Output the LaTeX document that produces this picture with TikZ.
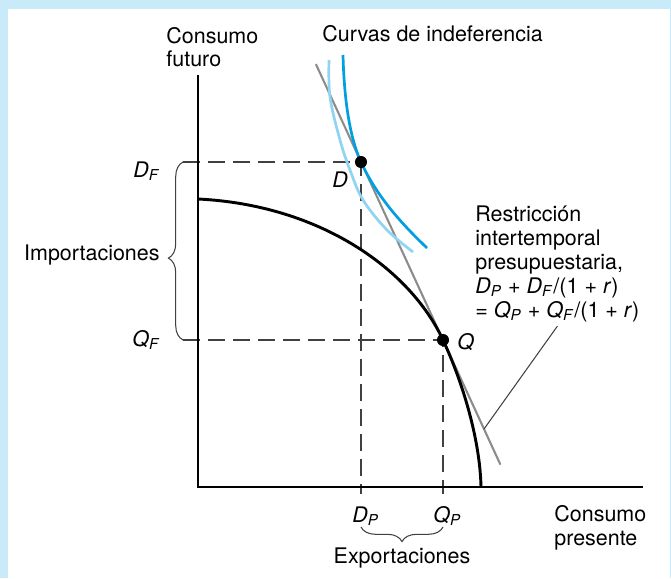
\documentclass[tikz,border=0pt]{standalone}
\usepackage{fontspec}
\setmainfont{TeX Gyre Heros}
\usetikzlibrary{decorations.pathreplacing,calc}

\definecolor{bandblue}{HTML}{C8EAF9}
\definecolor{curvedark}{HTML}{00A0E0}
\definecolor{curvelight}{HTML}{90D4F2}
\definecolor{budgetgray}{HTML}{8C8C8C}
\definecolor{guidegray}{HTML}{404040}

\newcommand{\lblsub}[2]{\textit{#1}\textsubscript{\textit{#2}}}

\begin{document}
\begin{tikzpicture}[x=0.48pt,y=-0.48pt,
  every node/.style={inner sep=0pt,font=\fontsize{10.3}{11.5}\selectfont},
  axis/.style={line width=1.4pt},
  frontier/.style={line width=1.4pt},
  budget/.style={budgetgray,line width=1pt},
  indifhi/.style={curvedark,line width=1.3pt},
  indiflo/.style={curvelight,line width=1.3pt},
  guide/.style={guidegray,line width=0.7pt,dash pattern=on 8pt off 4pt},
  bracket/.style={guidegray,line width=0.5pt,decorate,decoration={brace,amplitude=7pt}},
  leader/.style={guidegray,line width=0.5pt},
  dot/.style={circle,fill=black,minimum size=5.8pt},
  lbl/.style={anchor=base west}]

  %-------------------------
  % Marco
  %-------------------------
  \fill[bandblue] (0,0) rectangle (671,578);
  \fill[white] (8,9) rectangle (670,578);
  \useasboundingbox (0,0) rectangle (671,578);

  %-------------------------
  % Puntos de referencia
  %-------------------------
  \coordinate (O) at (198,487);
  \coordinate (ytop) at (198,75);
  \coordinate (xend) at (643,487);
  \coordinate (D) at (361,162);
  \coordinate (Q) at (443,340);
  \coordinate (DP) at (361,494);
  \coordinate (QP) at (443,494);
  \coordinate (DF) at (183,162);
  \coordinate (QF) at (183,340);
  \coordinate (F0) at (198,199);
  \coordinate (F1) at (481,487);
  \coordinate (lead) at ($(D)!1.5!(Q)$);

  %-------------------------
  % Lineas de trazos
  %-------------------------
  \draw[guide] (DF) -- (D) -- (DP);
  \draw[guide] (QF) -- (Q) -- (QP);

  %-------------------------
  % Restriccion presupuestaria
  %-------------------------
  \draw[budget] ($(D)!-0.55!(Q)$) -- ($(D)!1.7!(Q)$);

  %-------------------------
  % Curvas de indiferencia
  %-------------------------
  \draw[indiflo] plot[smooth,tension=0.6] coordinates
    {(329,60) (330,97) (340,140) (350,170) (363,200) (387,230) (413,252)};
  \draw[indifhi] (343,55) .. controls (344,95) and (348.7,135.3) .. (D)
    .. controls (377.4,197.6) and (402,224) .. (427,248);

  %-------------------------
  % Frontera de posibilidades
  %-------------------------
  \draw[frontier] (F0) .. controls (320,205) and (410,269) .. (Q)
    .. controls (463,383) and (480,440) .. (F1);

  % Ejes
  \draw[axis] (ytop) -- (O) -- (xend);

  % Puntos D y Q
  \node[dot] (Ddot) at (D) {};
  \node[dot] (Qdot) at (Q) {};

  %-------------------------
  % Etiquetas
  %-------------------------
  \node[lbl] (Dlab) at (332,187) {\textit{D}};
  \node[lbl] (Qlab) at (457,349) {\textit{Q}};
  \node[lbl] (DFlab) at (133,177) {\lblsub{D}{F}};
  \node[lbl] (QFlab) at (132,346) {\lblsub{Q}{F}};
  \node[lbl] (DPlab) at (352,522) {\lblsub{D}{P}};
  \node[lbl] (QPlab) at (433,522) {\lblsub{Q}{P}};

  % (base = ultima linea)
  \node[lbl,align=left] (yname) at (166,67) {Consumo\\futuro};
  \node[lbl] (curvas) at (322,42) {Curvas de indeferencia};
  \node[lbl,align=left] (xname) at (554,545) {Consumo\\presente};
  \node[lbl,align=left] (restr) at (475,317)
    {Restricción\\intertemporal\\presupuestaria,\\
     \lblsub{D}{P} + \lblsub{D}{F}/(1 + \textit{r})\\
     = \lblsub{Q}{P} + \lblsub{Q}{F}/(1 + \textit{r})};
  \draw[leader] ([yshift=-2pt]restr.south) -- (lead);

  % Importaciones y exportaciones
  \draw[bracket,decoration={aspect=0.46}] (QF) -- (DF);
  \node[anchor=base east] (imp) at (160,260) {Importaciones};
  \draw[bracket] (443,527) -- (361,527);
  \node[anchor=base] (exp) at (402,563) {Exportaciones};

\end{tikzpicture}
\end{document}
